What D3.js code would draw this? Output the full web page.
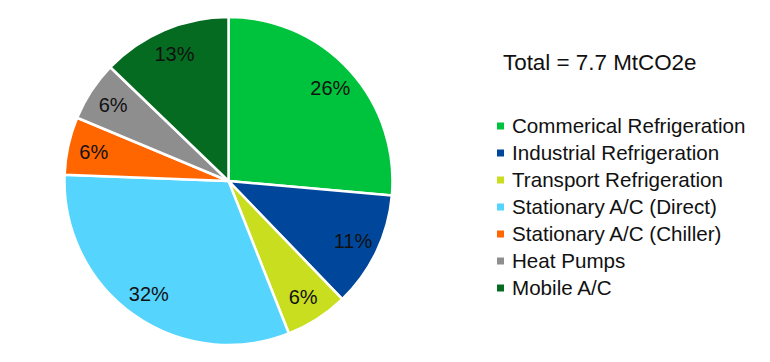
<!DOCTYPE html>
<html><head><meta charset="utf-8">
<script src="https://cdn.jsdelivr.net/npm/d3@7"></script>
<style>
html,body{margin:0;padding:0;background:#fff;}
svg{display:block;font-family:"Liberation Sans",Arial,sans-serif;}
</style></head>
<body><svg id="chart" width="770" height="362"></svg>
<script>
const categories = ["Commerical Refrigeration","Industrial Refrigeration","Transport Refrigeration","Stationary A/C (Direct)","Stationary A/C (Chiller)","Heat Pumps","Mobile A/C"];
const shares = [26.4, 11.4, 6.2, 31.6, 5.7, 5.9, 12.8];
const colors = ["#00c33d","#00479b","#c9de1f","#55d5fe","#ff6600","#8e8e8e","#046b20"];
const title = "Total = 7.7 MtCO2e";

const svg = d3.select("#chart");
const cx = 228.5, cy = 181, r = 164;
const g = svg.append("g").attr("transform", `translate(${cx},${cy})`);
const data = categories.map((c,i)=>({name:c, value:shares[i], color:colors[i]}));
const pie = d3.pie().value(d=>d.value).sort(null);
const arcs = pie(data);
const arc = d3.arc().innerRadius(0).outerRadius(r);
const labelArc = d3.arc().innerRadius(138).outerRadius(138);

g.selectAll("path").data(arcs).join("path")
  .attr("d", arc).attr("fill", d=>d.data.color)
  .attr("stroke","#fff").attr("stroke-width",2.5).attr("stroke-linejoin","round");

g.selectAll("text").data(arcs).join("text")
  .attr("transform", d=>`translate(${labelArc.centroid(d)})`)
  .attr("text-anchor","middle").attr("dy","0.36em")
  .attr("font-size",20).attr("fill","#111")
  .text(d=>d3.format(".0f")(d.data.value)+"%");

svg.append("text").attr("x",503).attr("y",70).attr("font-size",22.4).attr("fill","#111").text(title);

const leg = svg.append("g");
const rows = leg.selectAll("g").data(data).join("g")
  .attr("transform",(d,i)=>`translate(0,${133 + i*27})`);
rows.append("rect").attr("x",497).attr("y",-10.5).attr("width",7).attr("height",7).attr("fill",d=>d.color);
rows.append("text").attr("x",512).attr("y",0).attr("font-size",20.6).attr("fill","#111").text(d=>d.name);
</script></body></html>
